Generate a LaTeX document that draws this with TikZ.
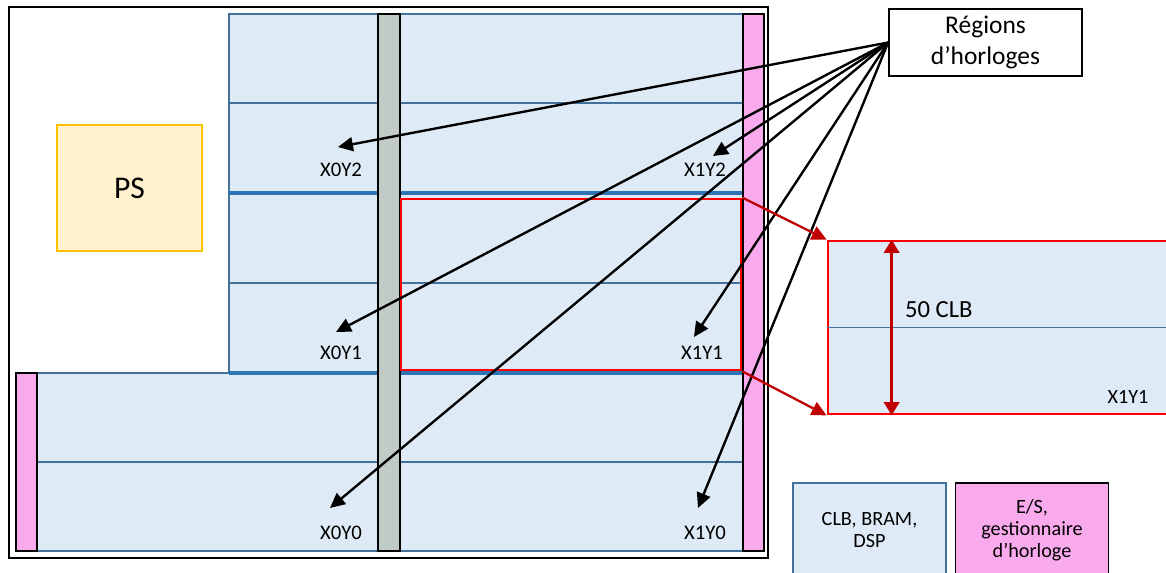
\documentclass[tikz,border=0pt]{standalone}
\usepackage{fontspec}
\setmainfont{Carlito}
\usetikzlibrary{arrows.meta, positioning, calc}
\definecolor{clbfill}{HTML}{DEEAF6}
\definecolor{clbline}{HTML}{41719C}
\definecolor{clkline}{HTML}{2E75B6}
\definecolor{iofill}{HTML}{F9AAEC}
\definecolor{bramfill}{HTML}{C0CAC6}
\definecolor{psfill}{HTML}{FFF2CC}
\definecolor{psline}{HTML}{FFC000}
\definecolor{selred}{HTML}{C00000}

\begin{document}
\begin{tikzpicture}[x=0.02cm, y=-0.02cm,
  clb/.style={fill=clbfill, draw=clbline, line width=0.9pt},
  rowline/.style={draw=clbline, line width=0.9pt},
  clkline/.style={draw=clkline, line width=2.6pt},
  column/.style={draw=black, line width=0.8pt},
  lbl/.style={font=\fontsize{11.8}{13}\selectfont, inner sep=0pt},
  legend/.style={line width=0.9pt, minimum width=3.06cm, minimum height=1.88cm, align=center, font=\fontsize{11.5}{12.5}\selectfont},
  arrow/.style={-{Triangle[length=8.5pt, width=8pt]}, line width=1.35pt, black},
  redarrow/.style={-{Triangle[length=8.5pt, width=8pt]}, line width=1.3pt, selred}
]
  \useasboundingbox (0,0) rectangle (1166,572);
  \clip (0,0) rectangle (1166,572);

  % device outline
  \draw[line width=1.4pt] (9,7) rectangle (768,558);

  % CLB areas and clock rows
  \draw[clb] (229,14) rectangle (743,373);
  \draw[clb] (16,373) rectangle (743,551);
  \foreach \y in {103,283} \draw[rowline] (229,\y) -- (743,\y);
  \draw[rowline] (37,462) -- (743,462);
  \foreach \y in {193,373} \draw[clkline] (229,\y) -- (743,\y);

  % BRAM/DSP column and I/O columns
  \draw[column, fill=bramfill] (378,14) rectangle (400,551);
  \draw[column, fill=iofill] (743,14) rectangle (764,551);
  \draw[column, fill=iofill] (16,373) rectangle (37,551);

  % selected clock region
  \node[draw=red, line width=1.6pt, minimum width=6.8cm, minimum height=3.42cm, inner sep=0pt] (sel) at (571,284.5) {};

  % processing system
  \node[fill=psfill, draw=psline, line width=1pt, minimum width=2.9cm, minimum height=2.52cm, font=\fontsize{18}{20}\selectfont] (ps) at (129.5,188) {PS};

  % region names
  \node[lbl] (x0y2) at (341,170) {X0Y2};
  \node[lbl] (x1y2) at (705,170) {X1Y2};
  \node[lbl] (x0y1) at (341,353) {X0Y1};
  \node[lbl] (x1y1) at (702,353) {X1Y1};
  \node[lbl] (x0y0) at (341,533) {X0Y0};
  \node[lbl] (x1y0) at (705,533) {X1Y0};

  \coordinate (t02) at (338,147);
  \coordinate (t12) at (713,156);
  \coordinate (t01) at (336,332);
  \coordinate (t11) at (694,337);
  \coordinate (t00) at (330,508);
  \coordinate (t10) at (698,508);

  \node[draw, line width=1pt, minimum width=3.86cm, minimum height=1.34cm, align=center, font=\fontsize{14.5}{17.6}\selectfont] (regions) at (985.5,42.5) {Régions\\d’horloges};

  \foreach \t in {t02,t12,t01,t11,t00,t10}
    \draw[arrow] (regions.west) -- (\t);

  % zoomed clock region
  \node[fill=clbfill, draw=red, line width=1.6pt, minimum width=7.04cm, minimum height=3.46cm, inner sep=0pt] (zoom) at (1004,327.5) {};
  \draw[rowline] (zoom.west) -- (zoom.east);
  \draw[redarrow] (sel.north east) -- (zoom.north west);
  \draw[redarrow] (sel.south east) -- (zoom.south west);
  \draw[{Triangle[length=7.5pt, width=8.5pt]}-{Triangle[length=7.5pt, width=8.5pt]}, line width=2pt, selred] ($(zoom.north west)+(65,0)$) -- ($(zoom.south west)+(65,0)$);
  \node[anchor=west, font=\fontsize{14}{16}\selectfont] (clbcount) at (899,310) {50 CLB};
  \node[lbl, font=\fontsize{11.5}{13}\selectfont] (zx1y1) at (1128,397) {X1Y1};

  % legend
  \node[legend, fill=clbfill, draw=clbline] (legclb) at (869.5,530) {CLB, BRAM,\\DSP};
  \node[legend, fill=iofill, draw=black, right=0.16cm of legclb] (legio) {E/S,\\gestionnaire\\d’horloge};
\end{tikzpicture}
\end{document}
